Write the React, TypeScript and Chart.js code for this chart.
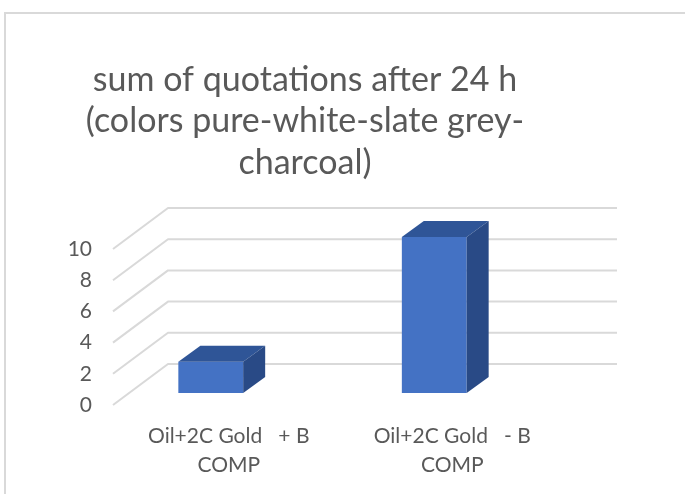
import React, { useEffect, useRef } from "react";
import { Chart, registerables } from "chart.js";

Chart.register(...registerables);

// ---- data ----
const categoryLabels: string[][] = [
  ["Oil+2C Gold   + B", "COMP"],
  ["Oil+2C Gold   - B", "COMP"],
];
const seriesValues: number[] = [2, 10];
const yMin = 0;
const yMax = 10;
const yStep = 2;
const titleLines: string[] = [
  "sum of quotations after 24 h",
  "(colors pure-white-slate grey-",
  "charcoal)",
];

// ---- style / layout ----
const CANVAS_W = 720;
const CANVAS_H = 520;
const FONT = "Lato, 'Open Sans', sans-serif";
const TEXT = "#595959";
const GRID = "#d9d9d9";
const FRONT = "#4472c4";
const TOP = "#2f5597";
const SIDE = "#294a86";
// oblique projection offsets, relative to the plane of the bars' front faces
const WALL_FRONT_X = 14;
const WALL_FRONT_Y = 12;
const WALL_BACK_X = 69;
const WALL_BACK_Y = -29;
const WALL_BACK_RIGHT_X = 71;
const BAR_DEPTH_X = 22;
const BAR_DEPTH_Y = -16;

const threeD = {
  id: "threeD",
  beforeDraw(chart: any) {
    const ctx = chart.ctx;
    ctx.save();
    ctx.fillStyle = "#ffffff";
    ctx.fillRect(0, 0, chart.width, chart.height);
    ctx.strokeStyle = GRID;
    ctx.lineWidth = 2;
    ctx.strokeRect(5, 13, chart.width + 50, chart.height + 50);
    ctx.restore();
  },
  beforeDatasetsDraw(chart: any) {
    const ctx = chart.ctx;
    const yScale = chart.scales.y;
    const { left, right } = chart.chartArea;
    ctx.save();
    ctx.strokeStyle = GRID;
    ctx.lineWidth = 2;
    ctx.lineJoin = "round";
    yScale.ticks.forEach((t: any) => {
      const py = yScale.getPixelForValue(t.value);
      ctx.beginPath();
      ctx.moveTo(left + WALL_FRONT_X, py + WALL_FRONT_Y);
      ctx.lineTo(left + WALL_BACK_X, py + WALL_BACK_Y);
      ctx.lineTo(right + WALL_BACK_RIGHT_X, py + WALL_BACK_Y);
      ctx.stroke();
    });
    ctx.restore();
  },
  afterDatasetsDraw(chart: any) {
    const ctx = chart.ctx;
    const meta = chart.getDatasetMeta(0);
    ctx.save();
    meta.data.forEach((bar: any) => {
      const { x, y, base, width } = bar.getProps(["x", "y", "base", "width"], true);
      const x1 = x - width / 2;
      const x2 = x + width / 2;
      // top face
      ctx.fillStyle = TOP;
      ctx.beginPath();
      ctx.moveTo(x1, y);
      ctx.lineTo(x1 + BAR_DEPTH_X, y + BAR_DEPTH_Y);
      ctx.lineTo(x2 + BAR_DEPTH_X, y + BAR_DEPTH_Y);
      ctx.lineTo(x2, y);
      ctx.closePath();
      ctx.fill();
      // side face
      ctx.fillStyle = SIDE;
      ctx.beginPath();
      ctx.moveTo(x2, y);
      ctx.lineTo(x2 + BAR_DEPTH_X, y + BAR_DEPTH_Y);
      ctx.lineTo(x2 + BAR_DEPTH_X, base + BAR_DEPTH_Y);
      ctx.lineTo(x2, base);
      ctx.closePath();
      ctx.fill();
    });
    ctx.restore();
  },
};

export default function App() {
  const ref = useRef<HTMLCanvasElement | null>(null);

  useEffect(() => {
    if (!ref.current) return;
    const chart = new Chart(ref.current, {
      type: "bar",
      data: {
        labels: categoryLabels,
        datasets: [
          {
            label: "sum",
            data: seriesValues,
            backgroundColor: FRONT,
            borderWidth: 0,
            barPercentage: 0.29,
            categoryPercentage: 1,
          },
        ],
      },
      options: {
        responsive: false,
        animation: false,
        devicePixelRatio: 1,
        layout: { padding: { left: 64, right: 174, top: 0, bottom: 0 } },
        plugins: {
          legend: { display: false },
          tooltip: { enabled: false },
          title: {
            display: true,
            text: titleLines,
            color: TEXT,
            font: { family: FONT, size: 34, weight: "normal", lineHeight: "41.5px" },
            padding: { top: 59, bottom: 53.5 },
          },
        },
        scales: {
          x: {
            grid: { display: false, drawTicks: false },
            border: { display: false },
            ticks: {
              color: TEXT,
              font: { family: FONT, size: 21, lineHeight: "29px" },
              padding: 29,
              labelOffset: 18,
              maxRotation: 0,
              autoSkip: false,
            },
            afterFit: (s: any) => {
              s.height = CANVAS_H - 393;
            },
          },
          y: {
            min: yMin,
            max: yMax,
            grid: { display: false, drawTicks: false },
            border: { display: false },
            ticks: {
              stepSize: yStep,
              color: TEXT,
              font: { family: FONT, size: 21 },
              padding: 7,
              labelOffset: 12,
            },
            afterFit: (s: any) => {
              s.width = 35;
            },
          },
        },
      },
      plugins: [threeD],
    });
    return () => chart.destroy();
  }, []);

  return (
    <div
      style={{
        position: "fixed",
        left: 0,
        top: 0,
        width: 685,
        height: 494,
        overflow: "hidden",
        background: "#ffffff",
      }}
    >
      <canvas
        ref={ref}
        width={CANVAS_W}
        height={CANVAS_H}
        style={{ display: "block", width: CANVAS_W, height: CANVAS_H }}
      />
    </div>
  );
}
